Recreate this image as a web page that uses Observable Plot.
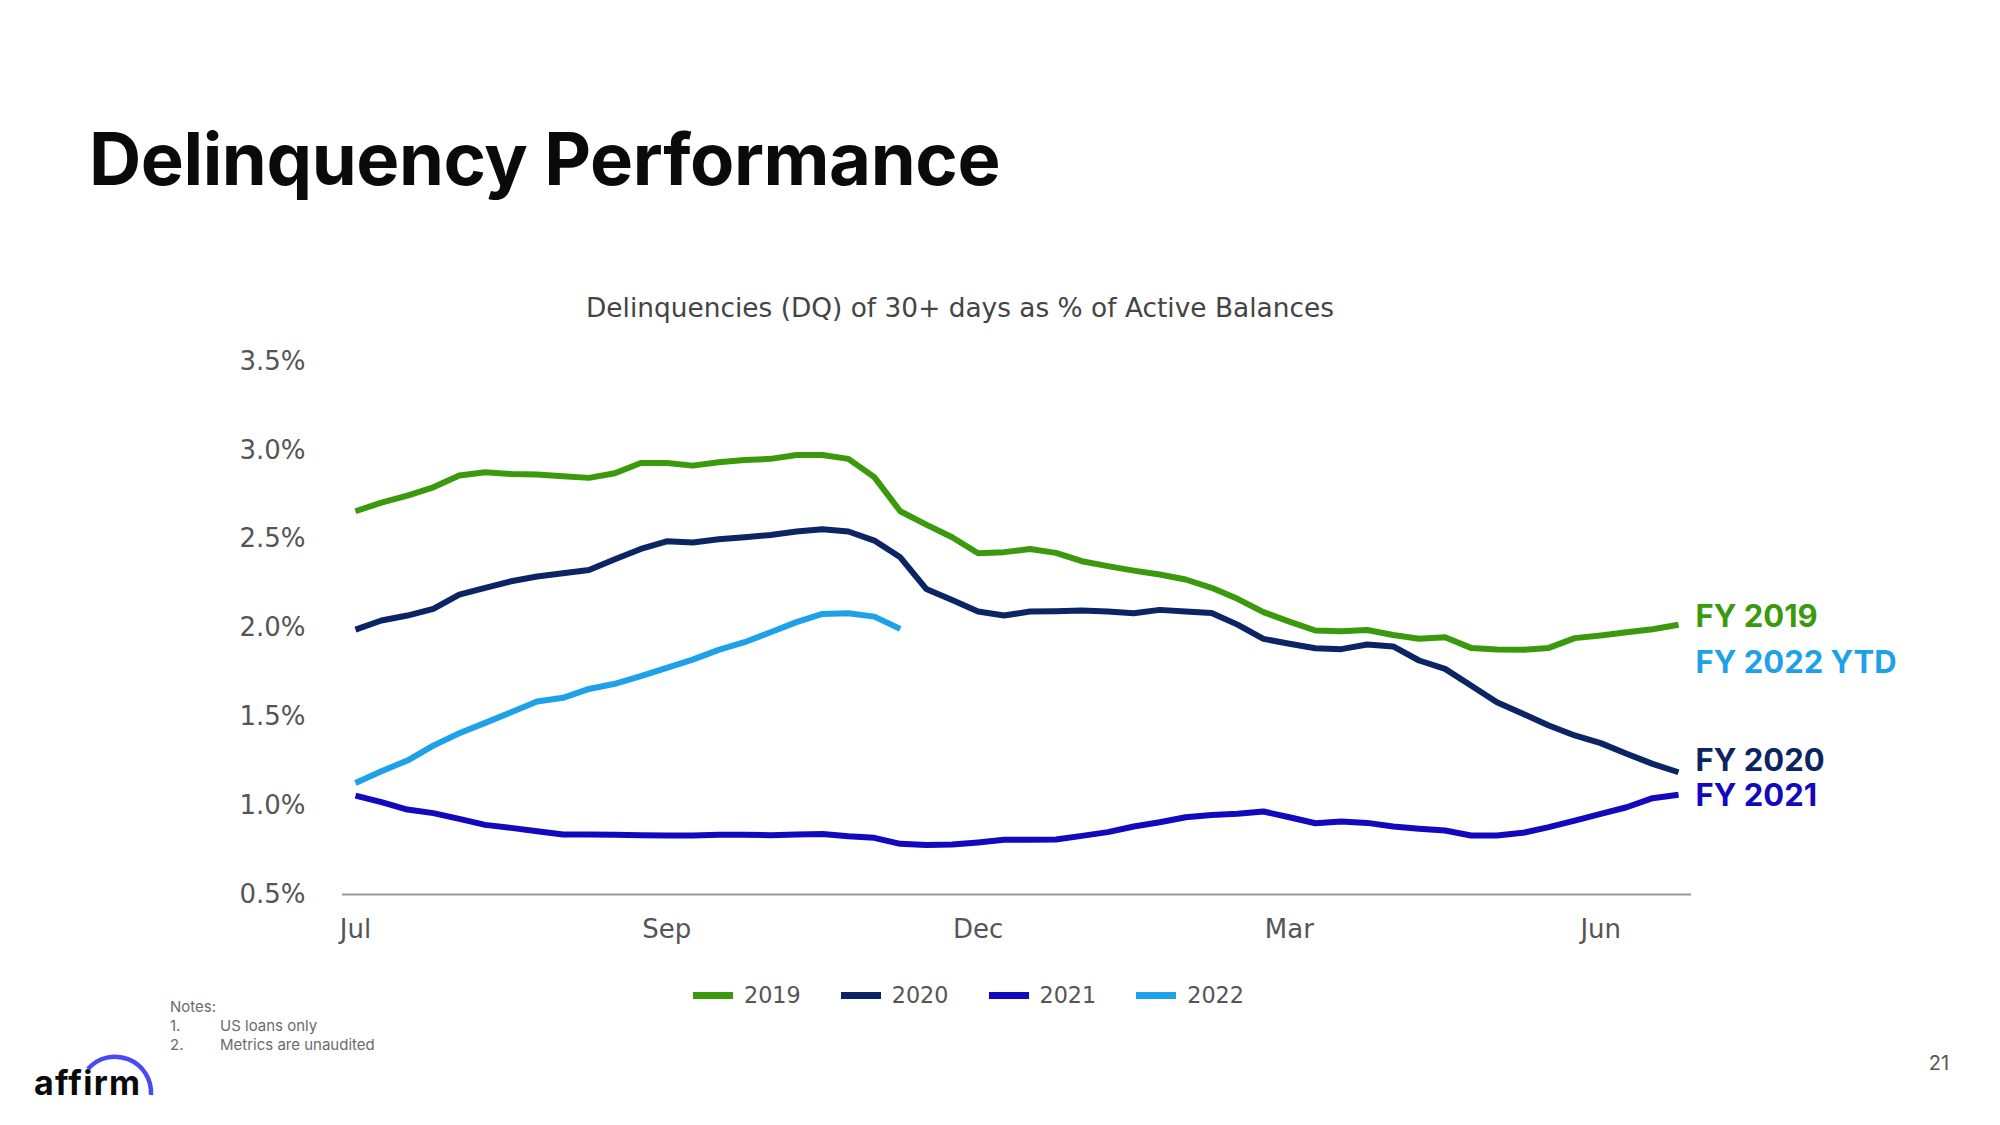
<!DOCTYPE html>
<html>
<head>
<meta charset="utf-8">
<script src="https://cdn.jsdelivr.net/npm/d3@7"></script>
<script src="https://cdn.jsdelivr.net/npm/@observablehq/plot@0.6"></script>
<style>
  html, body { margin: 0; padding: 0; background: #fff; }
  #page { position: relative; width: 2000px; height: 1125px; overflow: hidden; background: #fff; }
  #chart { position: absolute; left: 0; top: 0; }
  .title { position: absolute; left: 89px; top: 122.6px; font-family: Inter, sans-serif; font-weight: 700; font-size: 72.3px; line-height: 72.3px; color: #0a0a0a; letter-spacing: -0.4px; white-space: nowrap; }
  .subtitle { position: absolute; left: 560px; width: 800px; top: 293px; text-align: center; font-family: "DejaVu Sans", sans-serif; font-size: 26.4px; line-height: 30px; color: #444; white-space: nowrap; }
  .legend { position: absolute; left: 693px; top: 980px; display: flex; align-items: center; font-family: "DejaVu Sans", sans-serif; font-size: 22.3px; line-height: 30px; color: #555; }
  .legend .item { display: flex; align-items: center; margin-right: 40px; }
  .legend .sw { width: 40px; height: 7px; margin-right: 11px; }
  .notes { position: absolute; left: 170px; top: 997px; font-family: Inter, sans-serif; font-size: 15px; line-height: 19px; color: #6b6b6b; }
  .notes .n { display: inline-block; width: 50px; }
  .logo { position: absolute; left: 34px; top: 1065.6px; font-family: Inter, sans-serif; font-weight: 700; font-size: 34px; line-height: 34px; color: #0a0a0a; letter-spacing: 1.2px; }
  .pagenum { position: absolute; left: 1909px; width: 60px; top: 1051px; text-align: center; font-family: Inter, sans-serif; font-size: 20px; line-height: 24px; color: #555; }
</style>
</head>
<body>
<div id="page">
  <div id="chart"></div>
</div>
<script>
// ---------------- DATA ----------------
const titleText = "Delinquency Performance";
const subtitleText = "Delinquencies (DQ) of 30+ days as % of Active Balances";
const seriesNames = ["2019", "2020", "2021", "2022"];
const seriesColors = ["#3a9a0c", "#0b2463", "#1208bd", "#1da1e8"];

const fy2019 = [2.657, 2.706, 2.745, 2.792, 2.858, 2.877, 2.867, 2.864, 2.854, 2.845, 2.871, 2.929, 2.929, 2.914, 2.933, 2.946, 2.952,
  2.974, 2.974, 2.952, 2.849, 2.657, 2.582, 2.511, 2.421, 2.427, 2.445, 2.423, 2.376, 2.348, 2.323, 2.301, 2.273, 2.226,
  2.164, 2.089, 2.036, 1.986, 1.982, 1.989, 1.961, 1.939, 1.948, 1.888, 1.879, 1.877, 1.888, 1.943, 1.958, 1.976, 1.993, 2.018];
const fy2020 = [1.991, 2.042, 2.070, 2.108, 2.188, 2.226, 2.263, 2.290, 2.308, 2.327, 2.387, 2.445, 2.488, 2.481, 2.500, 2.511, 2.524,
  2.543, 2.556, 2.543, 2.492, 2.398, 2.220, 2.158, 2.093, 2.070, 2.093, 2.094, 2.098, 2.093, 2.083, 2.102, 2.093, 2.085,
  2.019, 1.939, 1.911, 1.886, 1.881, 1.907, 1.896, 1.817, 1.770, 1.676, 1.582, 1.517, 1.451, 1.395, 1.352, 1.292, 1.235, 1.188];
const fy2021 = [1.057, 1.020, 0.978, 0.958, 0.926, 0.892, 0.875, 0.856, 0.838, 0.838, 0.836, 0.834, 0.832, 0.832, 0.836, 0.836, 0.834,
  0.838, 0.841, 0.828, 0.819, 0.785, 0.778, 0.781, 0.793, 0.808, 0.808, 0.810, 0.830, 0.851, 0.883, 0.907, 0.935, 0.948,
  0.954, 0.967, 0.935, 0.901, 0.911, 0.903, 0.883, 0.870, 0.860, 0.832, 0.832, 0.847, 0.879, 0.916, 0.954, 0.991, 1.042, 1.061];
const fy2022 = [1.128, 1.194, 1.254, 1.338, 1.408, 1.466, 1.526, 1.586, 1.607, 1.657, 1.686, 1.729, 1.776, 1.822, 1.877, 1.920, 1.976,
  2.033, 2.079, 2.083, 2.064, 1.995];

const xTickIndex = [0, 12, 24, 36, 48];
const xTickLabels = ["Jul", "Sep", "Dec", "Mar", "Jun"];
const yTicks = [0.5, 1.0, 1.5, 2.0, 2.5, 3.0, 3.5];

const endLabels = ["FY 2019", "FY 2022 YTD", "FY 2020", "FY 2021"];
const endLabelSeries = ["2019", "2022", "2020", "2021"];

const notesLines = ["Notes:", "1.|US loans only", "2.|Metrics are unaudited"];
const pageNumber = "21";
const logoText = "affirm";

// ---------------- BUILD ----------------
const seriesValues = [fy2019, fy2020, fy2021, fy2022];
const rows = [];
seriesNames.forEach((name, k) => seriesValues[k].forEach((v, i) => rows.push({series: name, i, v})));
const colorOf = Object.fromEntries(seriesNames.map((n, k) => [n, seriesColors[k]]));
const lastOf = name => { const vals = seriesValues[seriesNames.indexOf(name)]; return {i: vals.length - 1, v: vals[vals.length - 1]}; };
const nPoints = fy2019.length;

// label anchors: each label sits at the end of a reference line, offset in pixels
const labelAnchor = ["2019", "2019", "2020", "2021"];
const labelDy = [-8, 38, -11, 1];
const labelMarks = endLabels.map((t, k) => {
  const a = lastOf(labelAnchor[k]);
  return Plot.text([{x: a.i, y: a.v, t}], {
    x: "x", y: "y", text: "t", dx: 17, dy: labelDy[k], textAnchor: "start",
    fill: colorOf[endLabelSeries[k]], fontFamily: "Inter", fontWeight: 700, fontSize: 31
  });
});

const chart = Plot.plot({
  width: 2000,
  height: 960,
  marginTop: 361,
  marginBottom: 66,
  marginLeft: 342,
  marginRight: 309,
  style: {fontFamily: "DejaVu Sans", fontSize: "26px", color: "#555", background: "transparent", overflow: "visible"},
  x: {domain: [-0.5, nPoints - 0.5], ticks: xTickIndex, tickFormat: d => xTickLabels[xTickIndex.indexOf(d)], tickSize: 0, tickPadding: 25, label: null},
  y: {domain: [0.5, 3.5], ticks: yTicks, tickFormat: d => d.toFixed(1) + "%", tickSize: 0, tickPadding: 37, label: null},
  color: {domain: seriesNames, range: seriesColors},
  marks: [
    Plot.ruleY([0.5], {stroke: "#9a9a9a", strokeWidth: 2}),
    Plot.lineY(rows, {x: "i", y: "v", z: "series", stroke: "series", strokeWidth: 6, strokeLinecap: "butt", strokeLinejoin: "round"}),
    ...labelMarks
  ]
});
document.getElementById("chart").appendChild(chart);

const page = d3.select("#page");
page.append("div").attr("class", "title").text(titleText);
page.append("div").attr("class", "subtitle").text(subtitleText);

const legend = page.append("div").attr("class", "legend");
seriesNames.forEach((n, k) => {
  const it = legend.append("div").attr("class", "item");
  it.append("span").attr("class", "sw").style("background", seriesColors[k]);
  it.append("span").text(n);
});

const notes = page.append("div").attr("class", "notes");
notesLines.forEach(line => {
  const d = notes.append("div");
  const parts = line.split("|");
  if (parts.length === 1) d.text(parts[0]);
  else { d.append("span").attr("class", "n").text(parts[0]); d.append("span").text(parts[1]); }
});

page.append("div").attr("class", "logo").text(logoText);
const arc = page.append("svg").attr("width", 200).attr("height", 120)
  .style("position", "absolute").style("left", "0px").style("top", "1000px");
arc.append("path").attr("d", "M 88 69 A 36 36 0 0 1 151 95")
  .attr("fill", "none").attr("stroke", "#4a4af4").attr("stroke-width", 4.5);

page.append("div").attr("class", "pagenum").text(pageNumber);
</script>
</body>
</html>
